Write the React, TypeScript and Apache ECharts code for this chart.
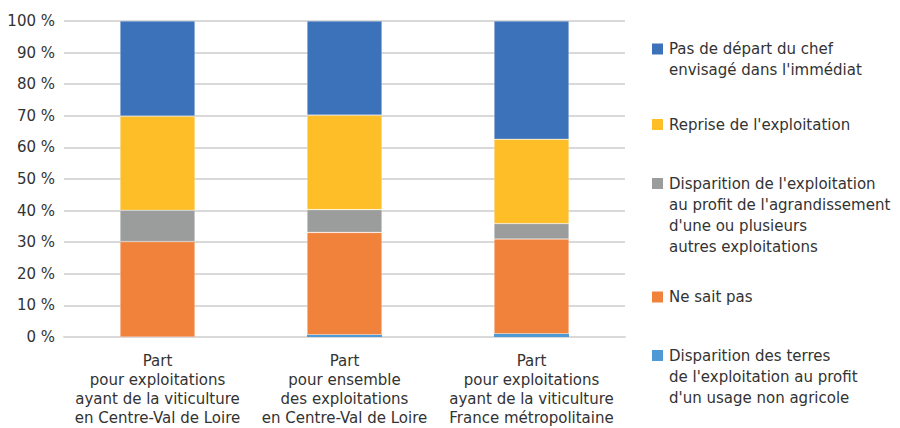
import React, { useEffect, useRef } from "react";
import * as echarts from "echarts";

// Catégories de l'axe horizontal
const categories = [
  "Part\npour exploitations\nayant de la viticulture\nen Centre-Val de Loire",
  "Part\npour ensemble\ndes exploitations\nen Centre-Val de Loire",
  "Part\npour exploitations\nayant de la viticulture\nFrance métropolitaine",
];

// Séries empilées, de bas en haut (en %)
const terresNonAgricole = [0, 0.7, 1.0];
const neSaitPas = [30.2, 32.4, 30.0];
const agrandissement = [9.9, 7.2, 4.9];
const reprise = [29.8, 29.9, 26.7];
const pasDeDepart = [30.1, 29.8, 37.4];

const seriesNames = [
  "Disparition des terres\nde l'exploitation au profit\nd'un usage non agricole",
  "Ne sait pas",
  "Disparition de l'exploitation\nau profit de l'agrandissement\nd'une ou plusieurs\nautres exploitations",
  "Reprise de l'exploitation",
  "Pas de départ du chef\nenvisagé dans l'immédiat",
];
const seriesData = [terresNonAgricole, neSaitPas, agrandissement, reprise, pasDeDepart];
const seriesColors = ["#4E9AD6", "#F1823C", "#9B9D9D", "#FDBE28", "#3C72B9"];

// Légende : ordre d'affichage (haut en bas) et centre vertical de chaque pastille
const legendOrder = [4, 3, 2, 1, 0];
const legendIconCenters = [49, 124.5, 183.5, 297, 355.5];

const FONT = "'DejaVu Sans', 'Open Sans', sans-serif";
const TEXT_COLOR = "#333333";

export default function App() {
  const ref = useRef<HTMLDivElement>(null);

  useEffect(() => {
    if (!ref.current) return;
    const chart = echarts.init(ref.current, undefined, { renderer: "svg" });

    const legendGraphics = legendOrder.map((idx, i) => {
      const cy = legendIconCenters[i];
      return {
        type: "group",
        children: [
          {
            type: "rect",
            shape: { x: 652, y: cy - 5.5, width: 11, height: 11 },
            style: { fill: seriesColors[idx] },
          },
          {
            type: "text",
            x: 669,
            y: cy - 10.5,
            style: {
              text: seriesNames[idx],
              font: `15px ${FONT}`,
              fill: TEXT_COLOR,
              lineHeight: 21,
              verticalAlign: "top",
              align: "left",
            },
          },
        ],
      };
    });

    chart.setOption({
      animation: false,
      textStyle: { fontFamily: FONT },
      grid: {
        left: 64,
        right: 275,
        top: 21,
        bottom: 91,
        containLabel: false,
        outerBoundsMode: "none",
      },
      xAxis: {
        type: "category",
        data: categories,
        axisLine: { show: true, lineStyle: { color: "#d9d9d9", width: 2 } },
        axisTick: { show: false },
        axisLabel: {
          interval: 0,
          margin: 14,
          fontSize: 15,
          lineHeight: 19,
          color: TEXT_COLOR,
          fontFamily: FONT,
          align: "center",
        },
      },
      yAxis: {
        type: "value",
        min: 0,
        max: 100,
        interval: 10,
        axisLine: { show: false },
        axisTick: { show: false },
        axisLabel: {
          formatter: "{value} %",
          fontSize: 15,
          color: TEXT_COLOR,
          fontFamily: FONT,
          margin: 9,
        },
        splitLine: { lineStyle: { color: "#d9d9d9", width: 2 } },
      },
      series: seriesData.map((data, i) => ({
        name: seriesNames[i],
        type: "bar",
        stack: "total",
        barWidth: 75,
        data,
        z: 3,
        itemStyle: {
          color: seriesColors[i],
          borderColor: "rgba(255,255,255,0.4)",
          borderWidth: i === 0 ? 0 : 0.6,
        },
      })),
      graphic: legendGraphics,
    });

    return () => chart.dispose();
  }, []);

  return (
    <div
      ref={ref}
      style={{ position: "fixed", left: 0, top: 0, width: 900, height: 428, background: "#fff" }}
    />
  );
}
